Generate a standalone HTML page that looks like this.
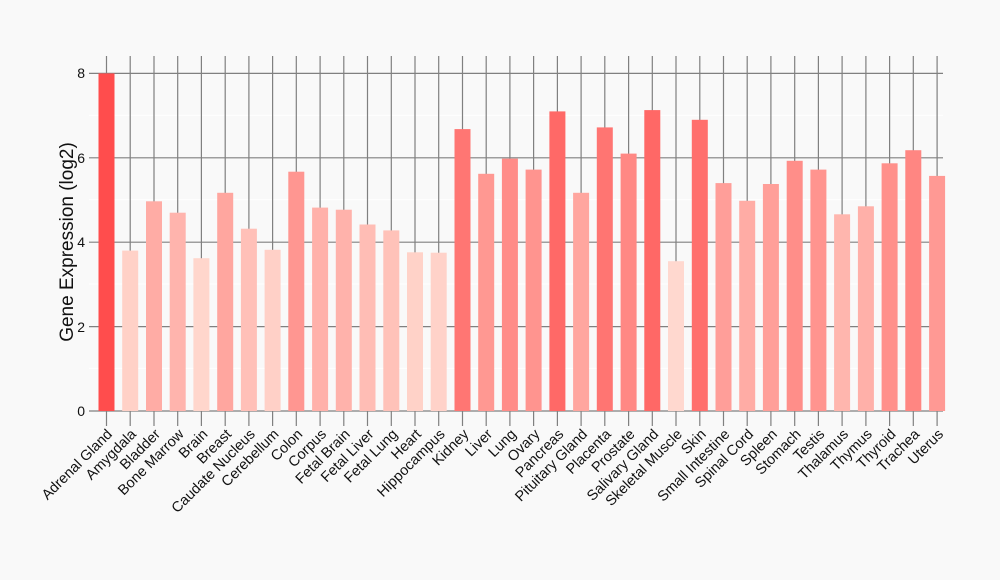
<!DOCTYPE html>
<html><head><meta charset="utf-8"><style>
html,body{margin:0;padding:0;background:#f9f9f9;}
svg{display:block;font-family:"Liberation Sans",Arial,sans-serif;}
</style></head><body>
<svg width="1000" height="580" viewBox="0 0 1000 580" xmlns="http://www.w3.org/2000/svg">
<rect width="1000" height="580" fill="#f9f9f9"/>
<g stroke="#ffffff" stroke-width="1">
<line x1="89" x2="943" y1="115.2" y2="115.2"/><line x1="89" x2="943" y1="199.6" y2="199.6"/><line x1="89" x2="943" y1="284" y2="284"/><line x1="89" x2="943" y1="368.4" y2="368.4"/>
</g>
<g stroke="#808080" stroke-width="1.2">
<line x1="89" x2="943" y1="73.4" y2="73.4"/><line x1="89" x2="943" y1="157.8" y2="157.8"/><line x1="89" x2="943" y1="242.2" y2="242.2"/><line x1="89" x2="943" y1="326.6" y2="326.6"/><line x1="89" x2="943" y1="411" y2="411"/>
<line x1="106.5" x2="106.5" y1="56" y2="426"/><line x1="130.2" x2="130.2" y1="56" y2="426"/><line x1="154" x2="154" y1="56" y2="426"/><line x1="177.7" x2="177.7" y1="56" y2="426"/><line x1="201.4" x2="201.4" y1="56" y2="426"/><line x1="225.2" x2="225.2" y1="56" y2="426"/><line x1="248.9" x2="248.9" y1="56" y2="426"/><line x1="272.6" x2="272.6" y1="56" y2="426"/><line x1="296.3" x2="296.3" y1="56" y2="426"/><line x1="320.1" x2="320.1" y1="56" y2="426"/><line x1="343.8" x2="343.8" y1="56" y2="426"/><line x1="367.5" x2="367.5" y1="56" y2="426"/><line x1="391.3" x2="391.3" y1="56" y2="426"/><line x1="415" x2="415" y1="56" y2="426"/><line x1="438.7" x2="438.7" y1="56" y2="426"/><line x1="462.5" x2="462.5" y1="56" y2="426"/><line x1="486.2" x2="486.2" y1="56" y2="426"/><line x1="509.9" x2="509.9" y1="56" y2="426"/><line x1="533.6" x2="533.6" y1="56" y2="426"/><line x1="557.4" x2="557.4" y1="56" y2="426"/><line x1="581.1" x2="581.1" y1="56" y2="426"/><line x1="604.8" x2="604.8" y1="56" y2="426"/><line x1="628.6" x2="628.6" y1="56" y2="426"/><line x1="652.3" x2="652.3" y1="56" y2="426"/><line x1="676" x2="676" y1="56" y2="426"/><line x1="699.8" x2="699.8" y1="56" y2="426"/><line x1="723.5" x2="723.5" y1="56" y2="426"/><line x1="747.2" x2="747.2" y1="56" y2="426"/><line x1="770.9" x2="770.9" y1="56" y2="426"/><line x1="794.7" x2="794.7" y1="56" y2="426"/><line x1="818.4" x2="818.4" y1="56" y2="426"/><line x1="842.1" x2="842.1" y1="56" y2="426"/><line x1="865.9" x2="865.9" y1="56" y2="426"/><line x1="889.6" x2="889.6" y1="56" y2="426"/><line x1="913.3" x2="913.3" y1="56" y2="426"/><line x1="937.1" x2="937.1" y1="56" y2="426"/>
</g>
<g>
<rect x="98.5" y="73.4" width="16" height="337.6" fill="rgb(255,77,77)"/>
<rect x="122.2" y="250.6" width="16" height="160.4" fill="rgb(255,209,199)"/>
<rect x="146" y="201.3" width="16" height="209.7" fill="rgb(255,172,165)"/>
<rect x="169.7" y="212.7" width="16" height="198.3" fill="rgb(255,180,173)"/>
<rect x="193.4" y="258.2" width="16" height="152.8" fill="rgb(255,214,204)"/>
<rect x="217.2" y="192.8" width="16" height="218.2" fill="rgb(255,166,159)"/>
<rect x="240.9" y="228.7" width="16" height="182.3" fill="rgb(255,192,184)"/>
<rect x="264.6" y="249.8" width="16" height="161.2" fill="rgb(255,208,199)"/>
<rect x="288.3" y="171.7" width="16" height="239.3" fill="rgb(255,150,145)"/>
<rect x="312.1" y="207.6" width="16" height="203.4" fill="rgb(255,177,170)"/>
<rect x="335.8" y="209.7" width="16" height="201.3" fill="rgb(255,178,171)"/>
<rect x="359.5" y="224.5" width="16" height="186.5" fill="rgb(255,189,181)"/>
<rect x="383.3" y="230.4" width="16" height="180.6" fill="rgb(255,194,185)"/>
<rect x="407" y="252.3" width="16" height="158.7" fill="rgb(255,210,200)"/>
<rect x="430.7" y="252.7" width="16" height="158.3" fill="rgb(255,210,201)"/>
<rect x="454.5" y="129.1" width="16" height="281.9" fill="rgb(255,118,115)"/>
<rect x="478.2" y="173.8" width="16" height="237.2" fill="rgb(255,152,146)"/>
<rect x="501.9" y="158.6" width="16" height="252.4" fill="rgb(255,140,136)"/>
<rect x="525.6" y="169.6" width="16" height="241.4" fill="rgb(255,148,143)"/>
<rect x="549.4" y="111.4" width="16" height="299.6" fill="rgb(255,105,103)"/>
<rect x="573.1" y="192.8" width="16" height="218.2" fill="rgb(255,166,159)"/>
<rect x="596.8" y="127.4" width="16" height="283.6" fill="rgb(255,117,114)"/>
<rect x="620.6" y="153.6" width="16" height="257.4" fill="rgb(255,136,132)"/>
<rect x="644.3" y="110.1" width="16" height="300.9" fill="rgb(255,104,102)"/>
<rect x="668" y="261.2" width="16" height="149.8" fill="rgb(255,216,207)"/>
<rect x="691.8" y="119.8" width="16" height="291.2" fill="rgb(255,111,109)"/>
<rect x="715.5" y="183.1" width="16" height="227.9" fill="rgb(255,158,153)"/>
<rect x="739.2" y="200.8" width="16" height="210.2" fill="rgb(255,172,165)"/>
<rect x="762.9" y="184" width="16" height="227" fill="rgb(255,159,153)"/>
<rect x="786.7" y="160.8" width="16" height="250.2" fill="rgb(255,142,137)"/>
<rect x="810.4" y="169.6" width="16" height="241.4" fill="rgb(255,148,143)"/>
<rect x="834.1" y="214.3" width="16" height="196.7" fill="rgb(255,182,174)"/>
<rect x="857.9" y="206.3" width="16" height="204.7" fill="rgb(255,176,169)"/>
<rect x="881.6" y="163.3" width="16" height="247.7" fill="rgb(255,144,139)"/>
<rect x="905.3" y="150.2" width="16" height="260.8" fill="rgb(255,134,130)"/>
<rect x="929.1" y="175.9" width="16" height="235.1" fill="rgb(255,153,148)"/>
</g>
<g font-size="14" fill="#111" text-anchor="end">
<text x="85" y="78">8</text><text x="85" y="163">6</text><text x="85" y="247">4</text><text x="85" y="332">2</text><text x="85" y="416">0</text>
</g>
<text transform="translate(73,242) rotate(-90)" text-anchor="middle" font-size="19" fill="#111">Gene Expression (log2)</text>
<g font-size="14.5" fill="#111" text-anchor="end">
<text transform="translate(113,435) rotate(-45)">Adrenal Gland</text>
<text transform="translate(137,435) rotate(-45)">Amygdala</text>
<text transform="translate(161,435) rotate(-45)">Bladder</text>
<text transform="translate(184.7,435) rotate(-45)">Bone Marrow</text>
<text transform="translate(208.4,435) rotate(-45)">Brain</text>
<text transform="translate(232.2,435) rotate(-45)">Breast</text>
<text transform="translate(255.9,435) rotate(-45)">Caudate Nucleus</text>
<text transform="translate(279.6,435) rotate(-45)">Cerebellum</text>
<text transform="translate(303.3,435) rotate(-45)">Colon</text>
<text transform="translate(327.1,435) rotate(-45)">Corpus</text>
<text transform="translate(350.8,435) rotate(-45)">Fetal Brain</text>
<text transform="translate(374.5,435) rotate(-45)">Fetal Liver</text>
<text transform="translate(398.3,435) rotate(-45)">Fetal Lung</text>
<text transform="translate(422,435) rotate(-45)">Heart</text>
<text transform="translate(445.7,435) rotate(-45)">Hippocampus</text>
<text transform="translate(469.5,435) rotate(-45)">Kidney</text>
<text transform="translate(493.2,435) rotate(-45)">Liver</text>
<text transform="translate(516.9,435) rotate(-45)">Lung</text>
<text transform="translate(540.6,435) rotate(-45)">Ovary</text>
<text transform="translate(564.4,435) rotate(-45)">Pancreas</text>
<text transform="translate(588.1,435) rotate(-45)">Pituitary Gland</text>
<text transform="translate(611.8,435) rotate(-45)">Placenta</text>
<text transform="translate(635.6,435) rotate(-45)">Prostate</text>
<text transform="translate(659.3,435) rotate(-45)">Salivary Gland</text>
<text transform="translate(683,435) rotate(-45)">Skeletal Muscle</text>
<text transform="translate(706.8,435) rotate(-45)">Skin</text>
<text transform="translate(730.5,435) rotate(-45)">Small Intestine</text>
<text transform="translate(754.2,435) rotate(-45)">Spinal Cord</text>
<text transform="translate(777.9,435) rotate(-45)">Spleen</text>
<text transform="translate(801.7,435) rotate(-45)">Stomach</text>
<text transform="translate(825.4,435) rotate(-45)">Testis</text>
<text transform="translate(849.1,435) rotate(-45)">Thalamus</text>
<text transform="translate(872.9,435) rotate(-45)">Thymus</text>
<text transform="translate(896.6,435) rotate(-45)">Thyroid</text>
<text transform="translate(920.3,435) rotate(-45)">Trachea</text>
<text transform="translate(944.1,435) rotate(-45)">Uterus</text>
</g>
</svg>
</body></html>
